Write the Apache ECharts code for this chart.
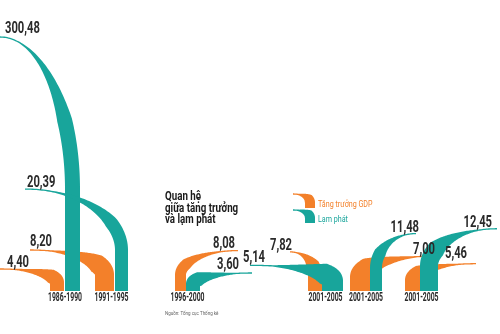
<!DOCTYPE html>
<html>
<head>
<meta charset="utf-8">
<script src="https://cdn.jsdelivr.net/npm/echarts@6/dist/echarts.min.js"></script>
<style>
html,body{margin:0;padding:0;background:#fff;}
#chart{width:500px;height:334px;}
</style>
</head>
<body>
<div id="chart"></div>
<script>
// ---- DATA ----
const periods = ['1986-1990', '1991-1995', '1996-2000', '2001-2005', '2001-2005', '2001-2005'];
const gdpGrowth = [4.40, 8.20, 8.08, 7.82, 7.00, 5.46];
const inflation = [300.48, 20.39, 3.60, 5.14, 11.48, 12.45];
const seriesNames = ['Tăng trưởng GDP', 'Lạm phát'];
const titleLines = ['Quan hệ', 'giữa tăng trưởng', 'và lạm phát'];
const sourceText = 'Nguồn: Tổng cục Thống kê';

// ---- LAYOUT (positions on the hidden x axis, tail directions, label placement) ----
const yMax = 50.8; // axis break: larger values are clipped at the top
const barsGdp = [[50, 64], [95, 114], [175, 186], [308, 322], [350, 370], [405, 420]];
const barsInf = [[65, 80], [115, 128], [186, 200], [322, 343], [370, 382], [420, 438]];
const tipXGdp = [0, 30, 238, 290, 437, 476];
const tipXInf = [0, 25, 252, 250, 416, 497];
const labGdp = [[7, 'left', -6], [0, 'left', -8], [-3, 'right', -7], [2, 'right', -6], [-2, 'right', -6], [-9, 'right', -10]];
const labInf = [[5, 'left', -8], [2, 'left', -6], [-13, 'right', -8], [-7, 'left', -7], [3, 'right', -6], [-5, 'right', -6]];

const ORANGE = '#F3802A';
const TEAL = '#18A59B';
const DARK = '#2a2a2a';
const FONT = 'Roboto, "Noto Sans", sans-serif';

function fmt(v) { return v.toFixed(2).replace('.', ','); }

// Swoosh: thin tail at tip (tx,ty) widening along a quarter-ellipse centre line into a vertical bar [xL..xR] down to yB
function swoosh(tx, ty, xL, xR, yB) {
  const xc = (xL + xR) / 2, W = xR - xL;
  const dy = yB - ty;
  const yVc = ty + 0.6 * dy;
  const rx = xc - tx, ry = yVc - ty;
  const sg = rx >= 0 ? 1 : -1;
  const t0 = 1.3, N = 80;
  const outer = [], inner = [];
  for (let k = 0; k <= N; k++) {
    const s = k / N, th = s * Math.PI / 2;
    const cx = tx + rx * Math.sin(th), cy = yVc - ry * Math.cos(th);
    let nx = -ry * Math.sin(th) * sg, ny = Math.abs(rx) * Math.cos(th);
    const nl = Math.hypot(nx, ny) || 1; nx /= nl; ny /= nl;
    const g = Math.pow(Math.min(1, Math.max(0, (s - 0.15) / 0.55)), 1.5);
    const w = t0 + (W - t0) * g;
    outer.push([cx - nx * w / 2, cy - ny * w / 2]);
    inner.push([cx + nx * w / 2, cy + ny * w / 2]);
  }
  // keep the inner (concave) edge monotone so it never loops
  const xNear = xc - sg * W / 2;
  for (let k = 1; k <= N; k++) {
    let x = inner[k][0], y = inner[k][1];
    if (sg * x < sg * inner[k - 1][0]) x = inner[k - 1][0];
    if (sg * x > sg * xNear) x = xNear;
    if (y < inner[k - 1][1]) y = inner[k - 1][1];
    inner[k] = [x, y];
  }
  const pts = outer.slice();
  pts.push([outer[N][0], yB], [inner[N][0], yB]);
  for (let k = N; k >= 0; k--) pts.push(inner[k]);
  return pts;
}

function makeShapeRender(bars, tipX, color) {
  return function (params, api) {
    const i = api.value(0);
    const v = api.value(1);
    const tip = api.coord([tipX[i], Math.min(v, yMax)]);
    const b0 = api.coord([bars[i][0], 0]);
    const b1 = api.coord([bars[i][1], 0]);
    return {
      type: 'polygon',
      shape: { points: swoosh(tip[0], tip[1], b0[0], b1[0], b0[1]) },
      style: { fill: color }
    };
  };
}

function valueText(tip, lab, v) {
  return {
    type: 'text',
    x: tip[0] + lab[0],
    y: tip[1] + lab[2],
    scaleX: 0.7,
    style: {
      text: fmt(v), fill: DARK, fontSize: 16, fontWeight: 'bold', fontFamily: FONT,
      align: lab[1], verticalAlign: 'middle'
    }
  };
}

function labelRender(params, api) {
  const i = api.value(0);
  const g = api.value(1), f = api.value(2);
  const tipG = api.coord([tipXGdp[i], Math.min(g, yMax)]);
  const tipF = api.coord([tipXInf[i], Math.min(f, yMax)]);
  const c0 = api.coord([barsGdp[i][0], 0]);
  const c1 = api.coord([barsInf[i][1], 0]);
  return {
    type: 'group',
    children: [valueText(tipG, labGdp[i], g), valueText(tipF, labInf[i], f), {
      type: 'text',
      x: (c0[0] + c1[0]) / 2,
      y: c0[1] + 7,
      scaleX: 0.57,
      style: {
        text: periods[i], fill: DARK, fontSize: 12, fontWeight: 'bold', fontFamily: FONT,
        align: 'center', verticalAlign: 'middle'
      }
    }]
  };
}

const chart = echarts.init(document.getElementById('chart'), null, { renderer: 'canvas' });

function txt(x, y, sx, text, fill, size, weight) {
  return {
    type: 'text', x: x, y: y, scaleX: sx,
    style: { text: text, fill: fill, fontSize: size, fontWeight: weight || 'normal', fontFamily: FONT, align: 'left', verticalAlign: 'middle', textAlign: 'left', textVerticalAlign: 'middle' }
  };
}
const graphicEls = [];
titleLines.forEach(function (t, k) {
  graphicEls.push(txt(165, 197 + k * 11.6, 0.78, t, '#1a1a1a', 12.5, 'bold'));
});
graphicEls.push(txt(165, 314, 0.9, sourceText, '#666', 5));
// legend
graphicEls.push({ type: 'polygon', shape: { points: swoosh(293, 194, 305, 315, 208) }, style: { fill: ORANGE } });
graphicEls.push({ type: 'polygon', shape: { points: swoosh(293, 210, 305, 315, 223) }, style: { fill: TEAL } });
graphicEls.push(txt(318, 205, 0.84, seriesNames[0], ORANGE, 8.5));
graphicEls.push(txt(318, 220, 0.84, seriesNames[1], TEAL, 8.5));

chart.setOption({
  animation: false,
  backgroundColor: '#ffffff',
  grid: { left: 0, right: 0, top: 37, bottom: 43 },
  xAxis: { type: 'value', min: 0, max: 500, show: false },
  yAxis: { type: 'value', min: 0, max: yMax, show: false },
  graphic: { elements: graphicEls },
  series: [{
    name: seriesNames[0],
    type: 'custom',
    z: 2,
    renderItem: makeShapeRender(barsGdp, tipXGdp, ORANGE),
    data: gdpGrowth.map(function (v, i) { return [i, v]; })
  }, {
    name: seriesNames[1],
    type: 'custom',
    z: 3,
    renderItem: makeShapeRender(barsInf, tipXInf, TEAL),
    data: inflation.map(function (v, i) { return [i, v]; })
  }, {
    name: 'labels',
    type: 'custom',
    z: 5,
    renderItem: labelRender,
    data: periods.map(function (p, i) { return [i, gdpGrowth[i], inflation[i]]; })
  }]
});
</script>
</body>
</html>
